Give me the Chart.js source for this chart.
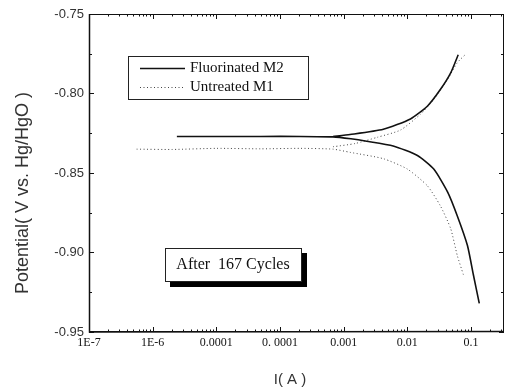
<!DOCTYPE html>
<html>
<head>
<meta charset="utf-8">
<script src="https://cdn.jsdelivr.net/npm/chart.js@4/dist/chart.umd.min.js"></script>
<style>
  html, body { margin: 0; padding: 0; background: #fff; }
  #wrap { width: 505px; height: 391px; }
</style>
</head>
<body>
<div id="wrap"><canvas id="tafelChart"></canvas></div>
<script>
// Tick values and labels (labels kept as printed on the original)
const xTickValues = [1e-7, 1e-6, 1e-5, 1e-4, 1e-3, 1e-2, 1e-1];
const xTickLabels = ['1E-7', '1E-6', '0.0001', '0. 0001', '0.001', '0.01', '0.1'];
const yTickValues = [-0.95, -0.90, -0.85, -0.80, -0.75];

// Fluorinated M2: cathodic branch (incl. flat part), then gap, then anodic branch
const m2Current = [2.4e-6, 1e-5, 5e-5, 2.1e-4, 6.8e-4, 1.3e-3, 2.3e-3, 6.0e-3, 0.0144, 0.026, 0.043, 0.061, 0.088, 0.109, 0.135,
  null,
  6.8e-4, 1.26e-3, 4.2e-3, 0.0112, 0.0206, 0.033, 0.048, 0.063];
const m2Potential = [-0.827, -0.827, -0.827, -0.827, -0.8273, -0.8285, -0.830, -0.833, -0.839, -0.8475, -0.862, -0.877, -0.8956, -0.914, -0.932,
  null,
  -0.827, -0.8258, -0.8225, -0.816, -0.808, -0.7975, -0.787, -0.7756];

// Untreated M1
const m1Current = [5.6e-7, 2e-6, 1e-5, 5e-5, 2.1e-4, 6.8e-4, 1.26e-3, 4.2e-3, 0.01, 0.0206, 0.033, 0.048, 0.061, 0.076,
  null,
  6.8e-4, 1.5e-3, 3.4e-3, 7.8e-3, 0.016, 0.026, 0.043, 0.061, 0.081];
const m1Potential = [-0.835, -0.8352, -0.8345, -0.8348, -0.8345, -0.835, -0.837, -0.841, -0.8475, -0.858, -0.8706, -0.885, -0.902, -0.914,
  null,
  -0.8335, -0.8315, -0.8275, -0.823, -0.8131, -0.8038, -0.791, -0.7806, -0.7756];

const toPoints = (xs, ys) => xs.map((x, i) => ({ x: x === null ? 1e-3 : x, y: ys[i] }));

const serif = '"Liberation Serif", "DejaVu Serif", serif';
const sans = '"Liberation Sans", Arial, sans-serif';

// frame, inward ticks, legend, note box, axis titles
const decorations = {
  id: 'decorations',
  afterDraw(chart) {
    const { ctx, chartArea: a } = chart;
    const xs = chart.scales.x, ys = chart.scales.y;
    ctx.save();
    ctx.strokeStyle = '#111';
    ctx.lineWidth = 1;
    ctx.strokeRect(a.left + 0.5, a.top + 0.5, a.right - a.left - 1, a.bottom - a.top - 1);
    ctx.lineWidth = 1.5;
    ctx.beginPath();
    ctx.moveTo(a.left + 0.5, a.top); ctx.lineTo(a.left + 0.5, a.bottom);
    ctx.lineTo(a.right, a.bottom - 0.5);
    ctx.stroke();

    // y ticks (major + minor), left and right
    ctx.lineWidth = 1;
    ctx.beginPath();
    for (let v = -0.95; v <= -0.7499; v += 0.025) {
      const py = Math.round(ys.getPixelForValue(v)) + 0.5;
      const major = Math.abs(Math.round(v * 1000) % 50) === 0;
      const len = major ? 5 : 3;
      ctx.moveTo(a.left, py); ctx.lineTo(a.left + len, py);
      ctx.moveTo(a.right, py); ctx.lineTo(a.right - len, py);
    }
    // x ticks (decades + minor), bottom and top
    for (let e = -7; e <= 0; e++) {
      for (let m = 1; m <= 9; m++) {
        const v = m * Math.pow(10, e);
        if (v < xs.min || v > xs.max) continue;
        const px = Math.round(xs.getPixelForValue(v)) + 0.5;
        const len = m === 1 ? 5 : 2.5;
        ctx.moveTo(px, a.bottom); ctx.lineTo(px, a.bottom - len);
        ctx.moveTo(px, a.top); ctx.lineTo(px, a.top + len);
      }
    }
    ctx.stroke();

    // legend box
    ctx.fillStyle = '#fff';
    ctx.fillRect(128, 56, 180, 43);
    ctx.strokeStyle = '#222';
    ctx.strokeRect(128.5, 56.5, 180, 43);
    chart.data.datasets.forEach((ds, i) => {
      const ly = i === 0 ? 68.5 : 87.5;
      ctx.beginPath();
      ctx.strokeStyle = ds.borderColor;
      ctx.lineWidth = ds.borderWidth;
      ctx.setLineDash(ds.borderDash || []);
      ctx.moveTo(140, ly); ctx.lineTo(185, ly);
      ctx.stroke();
      ctx.setLineDash([]);
      ctx.fillStyle = '#111';
      ctx.font = '15px ' + serif;
      ctx.textBaseline = 'middle';
      ctx.textAlign = 'left';
      ctx.fillText(ds.label, 190, ly);
    });

    // note box with shadow
    ctx.fillStyle = '#000';
    ctx.fillRect(170, 253, 137, 34);
    ctx.fillStyle = '#fff';
    ctx.fillRect(165, 248, 137, 34);
    ctx.strokeStyle = '#222';
    ctx.lineWidth = 1;
    ctx.strokeRect(165.5, 248.5, 136, 33);
    ctx.fillStyle = '#111';
    ctx.font = '16px ' + serif;
    ctx.textAlign = 'center';
    ctx.textBaseline = 'middle';
    ctx.fillText('After  167 Cycles', 233, 265);

    // axis titles
    ctx.fillStyle = '#333';
    ctx.font = '15px ' + sans;
    ctx.fillText('I( A )', 290, 380);
    ctx.font = '18px ' + sans;
    ctx.translate(23, 193);
    ctx.rotate(-Math.PI / 2);
    ctx.fillText('Potential( V vs. Hg/HgO )', 0, 0);
    ctx.restore();
  }
};

const ctx = document.getElementById('tafelChart').getContext('2d');
const tafelChart = new Chart(ctx, {
  type: 'scatter',
  data: {
    datasets: [{
      label: 'Fluorinated M2',
      data: toPoints(m2Current, m2Potential),
      showLine: true,
      spanGaps: false,
      borderColor: '#111',
      borderWidth: 1.6,
      pointRadius: 0,
      tension: 0.2
    }, {
      label: 'Untreated M1',
      data: toPoints(m1Current, m1Potential),
      showLine: true,
      spanGaps: false,
      borderColor: '#444',
      borderWidth: 1,
      borderDash: [1, 2.5],
      pointRadius: 0,
      tension: 0.2
    }]
  },
  options: {
    responsive: true,
    maintainAspectRatio: false,
    animation: false,
    layout: { padding: { top: 14, right: 1, left: 0, bottom: 0 } },
    plugins: {
      legend: { display: false },
      tooltip: { enabled: false }
    },
    scales: {
      x: {
        type: 'logarithmic',
        min: 1e-7,
        max: 0.33,
        afterBuildTicks: (scale) => {
          scale.ticks = xTickValues.map(v => ({ value: v }));
        },
        afterFit: (scale) => { scale.height = 59; },
        grid: { display: false, drawTicks: false },
        border: { display: false },
        ticks: {
          padding: 4,
          maxRotation: 0,
          autoSkip: false,
          color: '#111',
          font: { family: serif, size: 12 },
          callback: (value) => {
            const i = xTickValues.findIndex(v => Math.abs(v - value) / v < 1e-6);
            return i >= 0 ? xTickLabels[i] : '';
          }
        }
      },
      y: {
        min: -0.95,
        max: -0.75,
        afterBuildTicks: (scale) => {
          scale.ticks = yTickValues.map(v => ({ value: v }));
        },
        afterFit: (scale) => { scale.width = 89; },
        grid: { display: false, drawTicks: false },
        border: { display: false },
        ticks: {
          padding: 5,
          color: '#333',
          font: { family: sans, size: 13 },
          callback: (value) => value.toFixed(2)
        }
      }
    }
  },
  plugins: [decorations]
});
</script>
</body>
</html>
